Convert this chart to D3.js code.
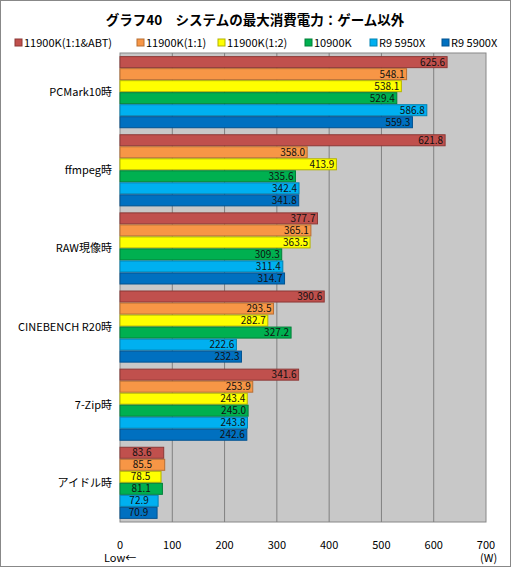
<!DOCTYPE html><html><head><meta charset="utf-8"><script src="https://cdn.jsdelivr.net/npm/d3@7"></script>
<style>body{margin:0;background:#fff}text{font-family:"Noto Sans CJK JP","Noto Sans",sans-serif}</style></head><body><svg id="c" width="511" height="567"></svg><script>
const categories=["PCMark10時","ffmpeg時","RAW現像時","CINEBENCH R20時","7-Zip時","アイドル時"];
const series=["11900K(1:1&ABT)","11900K(1:1)","11900K(1:2)","10900K","R9 5950X","R9 5900X"];
const colors=["#c0504d","#f79646","#ffff00","#00b050","#00b0f0","#0070c0"];
const strokes=["#8c3836","#b86e33","#b3b300","#008038","#0083b3","#005290"];
const values=[
[625.6,548.1,538.1,529.4,586.8,559.3],
[621.8,358.0,413.9,335.6,342.4,341.8],
[377.7,365.1,363.5,309.3,311.4,314.7],
[390.6,293.5,282.7,327.2,222.6,232.3],
[341.6,253.9,243.4,245.0,243.8,242.6],
[83.6,85.5,78.5,81.1,72.9,70.9]];
const ticks=[0,100,200,300,400,500,600,700];
const svg=d3.select("#c");
svg.append("rect").attr("x",0.5).attr("y",0.5).attr("width",510).attr("height",566).attr("fill","#fff").attr("stroke","#888");
svg.append("text").attr("x",255).attr("y",25).attr("text-anchor","middle").attr("font-size",13.5).attr("font-weight","bold").text("グラフ40　システムの最大消費電力：ゲーム以外");
const lx=[15,137,218,305,370,442];
series.forEach((s,i)=>{svg.append("rect").attr("x",lx[i]).attr("y",39).attr("width",7).attr("height",7).attr("fill",colors[i]).attr("stroke",strokes[i]);
svg.append("text").attr("x",lx[i]+9).attr("y",47).attr("font-size",11).text(s);});
const x=d3.scaleLinear().domain([0,700]).range([120,486]);
const y=d3.scaleBand().domain(categories).range([53,522]).paddingInner(0.077).paddingOuter(0.04);
svg.append("rect").attr("x",120).attr("y",53).attr("width",366).attr("height",469).attr("fill","#c8c8c8").attr("stroke","#888");
ticks.slice(1,-1).forEach(t=>svg.append("line").attr("x1",x(t)).attr("x2",x(t)).attr("y1",53).attr("y2",522).attr("stroke","#808080"));
const yi=d3.scaleBand().domain(d3.range(6)).range([0,y.bandwidth()]);
categories.forEach((c,ci)=>{
 svg.append("text").attr("x",112).attr("y",y(c)+y.bandwidth()/2+4).attr("text-anchor","end").attr("font-size",11).text(c);
 values[ci].forEach((v,si)=>{const yy=y(c)+yi(si);
  svg.append("rect").attr("x",x(0)).attr("y",yy+0.5).attr("width",x(v)-x(0)).attr("height",yi.bandwidth()-1).attr("fill",colors[si]).attr("stroke",strokes[si]);
  const small=v<100;
  svg.append("text").attr("x",small?(x(0)+x(v))/2:x(v)-2).attr("y",yy+yi.bandwidth()/2+3.5).attr("text-anchor",small?"middle":"end").attr("font-size",10).attr("fill","#111").text(v.toFixed(1));
 });
});
svg.append("g").selectAll("text").data(ticks).join("text").attr("x",d=>x(d)).attr("y",549).attr("text-anchor","middle").attr("font-size",11).text(d=>d);
svg.append("text").attr("x",104).attr("y",562).attr("font-size",11).text("Low←");
svg.append("text").attr("x",480).attr("y",562).attr("font-size",11).text("(W)");
</script></body></html>
